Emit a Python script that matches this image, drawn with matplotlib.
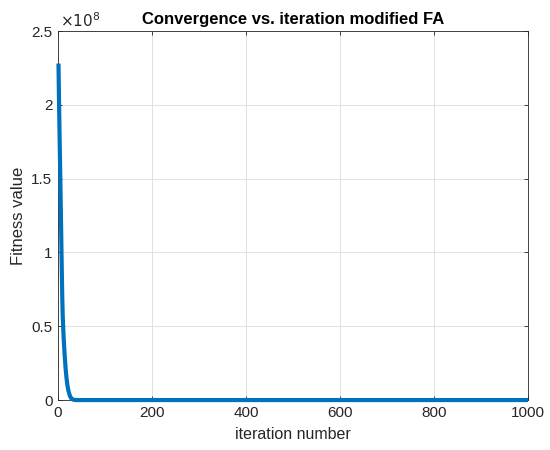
import numpy as np
import matplotlib
matplotlib.use("Agg")
import matplotlib.pyplot as plt
from matplotlib.ticker import FuncFormatter, MultipleLocator

plt.rcParams['font.family'] = ['Liberation Sans', 'DejaVu Sans']

# convergence curve (iteration, fitness)
iterations = [1, 2, 3, 4, 5, 6, 7, 8, 9, 10, 12, 14, 16, 18, 20, 22, 25, 28, 31, 35, 40, 60, 100, 200, 400, 600, 800, 1000]
fitness = [2.28e8, 2.05e8, 1.85e8, 1.66e8, 1.48e8, 1.28e8, 1.08e8, 0.88e8, 0.70e8, 0.57e8,
           0.42e8, 0.31e8, 0.22e8, 0.15e8, 0.10e8, 0.065e8, 0.03e8, 0.012e8, 0.004e8, 0.001e8,
           0.0, 0.0, 0.0, 0.0, 0.0, 0.0, 0.0, 0.0]

xticks = [0, 200, 400, 600, 800, 1000]

fig = plt.figure(figsize=(5.5, 4.5), dpi=100)
ax = fig.add_axes([0.1055, 0.111, 0.8545, 0.82])

ax.plot(iterations, fitness, color='#0072BD', linewidth=3.0, solid_capstyle='butt',
        clip_on=False, zorder=3)

ax.set_xlim(0, 1000)
ax.set_ylim(0, 2.5e8)
ax.set_xticks(xticks)
ax.yaxis.set_major_locator(MultipleLocator(0.5e8))
ax.yaxis.set_major_formatter(FuncFormatter(lambda v, p: f"{v / 1e8:g}"))

ax.grid(True, color='#dcdcdc', linewidth=0.6)
ax.set_axisbelow(True)
for s in ax.spines.values():
    s.set_color('#262626')
    s.set_linewidth(0.6)
ax.tick_params(direction='in', length=3, width=0.6, top=True, right=True,
               colors='#262626', labelsize=11, pad=4)
for lab in ax.get_xticklabels() + ax.get_yticklabels():
    lab.set_color('#262626')

ax.text(0.005, 1.004, r'$\times 10^{8}$', transform=ax.transAxes, fontsize=11,
        color='#262626', ha='left', va='bottom')

ax.set_title('Convergence vs. iteration modified FA', fontsize=12, fontweight='bold', pad=5)
ax.set_xlabel('iteration number', fontsize=11.5, color='#262626', labelpad=5)
ax.set_ylabel('Fitness value', fontsize=12, color='#262626')

fig.savefig('out.png', dpi=100)
